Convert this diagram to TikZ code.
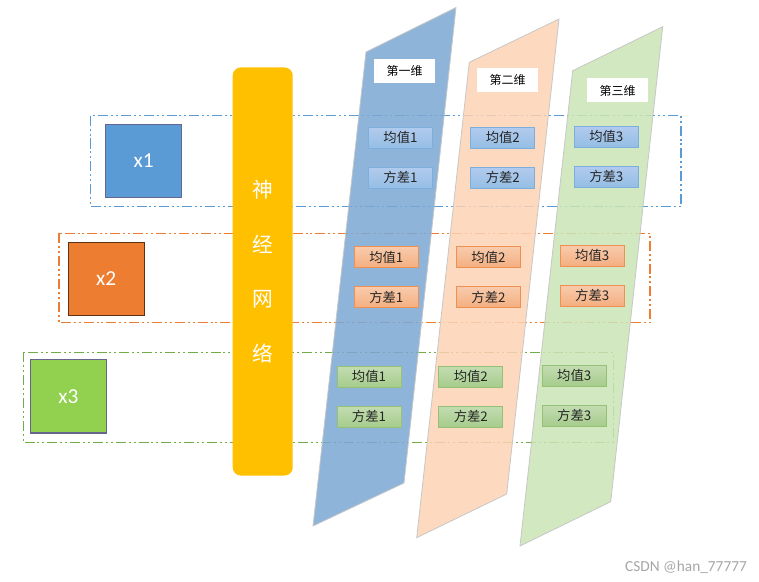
\documentclass[tikz,border=0pt]{standalone}
\usepackage{fontspec}
\setmainfont{Carlito}
\newfontfamily\cjk{Noto Sans CJK SC}
\usetikzlibrary{positioning}

\definecolor{xblue}{HTML}{5B9BD5}
\definecolor{xorange}{HTML}{ED7D31}
\definecolor{xgreen}{HTML}{92D050}
\definecolor{lineblue}{HTML}{5B9BD5}
\definecolor{lineorange}{HTML}{ED7D31}
\definecolor{linegreen}{HTML}{70AD47}
\definecolor{netyellow}{HTML}{FFC000}
\definecolor{panelblue}{HTML}{7BA7D3}
\definecolor{panelpeach}{HTML}{FCD2B4}
\definecolor{panelgreen}{HTML}{CAE4B5}

\begin{document}
\begin{tikzpicture}[x=0.75pt, y=-0.75pt,
  group/.style={line width=1.1pt, dash pattern=on 7.5pt off 2.2pt on 1.5pt off 2.2pt on 1.5pt off 2.2pt},
  input/.style={fill=#1, line width=0.8pt, minimum width=57pt, minimum height=55pt, text=white, font=\fontsize{16}{18}\selectfont},
  panel/.style={fill=#1, fill opacity=0.85, draw=black!22, line width=0.6pt},
  dimlabel/.style={fill=white, minimum width=46pt, minimum height=18pt, inner sep=0pt, font=\cjk\fontsize{9}{10}\selectfont},
  stat/.style={minimum width=48pt, minimum height=15.75pt, inner sep=0pt, line width=0.7pt, text=black!85, font=\cjk\fontsize{10}{11}\selectfont},
  statblue/.style={stat, draw=lineblue!80, top color=blue!10!lineblue!45, bottom color=lineblue!65},
  statorange/.style={stat, draw=lineorange!85, top color=lineorange!40, bottom color=lineorange!62},
  statgreen/.style={stat, draw=linegreen!75, top color=linegreen!42, bottom color=linegreen!62}
]
\useasboundingbox (0,0) rectangle (759,581);

% dashed groups
\draw[group, lineblue] (90.7,115.7) rectangle (681,206.7);
\draw[group, lineorange] (59,233.3) rectangle (650,322.7);
\draw[group, linegreen] (23.3,352.3) rectangle (613.3,442.3);

% inputs
\node[input=xblue, draw=black!70!blue!60] (x1) at (143.7,160.8) {x1};
\node[input=xorange, draw=black!60!xorange] (x2) at (106.2,278.7) {x2};
\node[input=xgreen, draw=black!75!blue!60] (x3) at (68.3,396.3) {x3};

% network
\node[fill=netyellow, rounded corners=6pt, minimum width=45pt, minimum height=306pt, text=white, align=center,
  font=\cjk\fontsize{15.5}{41}\selectfont] (net) at (262.7,271.5) {神\\经\\网\\络};

% panels
\path[panel=panelblue] (366,52) -- (456,7.5) -- (404,483) -- (313,526) -- cycle;
\path[panel=panelpeach] (469.3,62.3) -- (559,19) -- (506.7,494) -- (416.7,537.7) -- cycle;
\path[panel=panelgreen] (572.7,70.7) -- (662.7,26.7) -- (610.7,501.7) -- (520,546) -- cycle;

\node[dimlabel] (dim1) at (404.7,71) {第一维};
\node[dimlabel] (dim2) at (507.7,80) {第二维};
\node[dimlabel] (dim3) at (617.5,90.5) {第三维};

% first input
\node[statblue] (mean11) at (400.5,137.8) {均值1};
\node[statblue] (var11) at (400.5,177.8) {方差1};
\node[statblue] (mean12) at (502.8,137.8) {均值2};
\node[statblue] (var12) at (502.8,177.8) {方差2};
\node[statblue] (mean13) at (606.3,136.7) {均值3};
\node[statblue] (var13) at (606.3,176.5) {方差3};

% second input
\node[statorange] (mean21) at (386.3,257.2) {均值1};
\node[statorange] (var21) at (386.3,297.2) {方差1};
\node[statorange] (mean22) at (488.5,257.2) {均值2};
\node[statorange] (var22) at (488.5,297.2) {方差2};
\node[statorange] (mean23) at (592.2,255.8) {均值3};
\node[statorange] (var23) at (592.2,295.8) {方差3};

% third input
\node[statgreen] (mean31) at (369,376.5) {均值1};
\node[statgreen] (var31) at (369,416.5) {方差1};
\node[statgreen] (mean32) at (470.8,376.5) {均值2};
\node[statgreen] (var32) at (470.8,416.5) {方差2};
\node[statgreen] (mean33) at (574.2,375.8) {均值3};
\node[statgreen] (var33) at (574.2,415.8) {方差3};

\node[text=black!35, font=\fontsize{11.5}{13}\selectfont] (mark) at (686,567) {CSDN @han\_77777};
\end{tikzpicture}
\end{document}
